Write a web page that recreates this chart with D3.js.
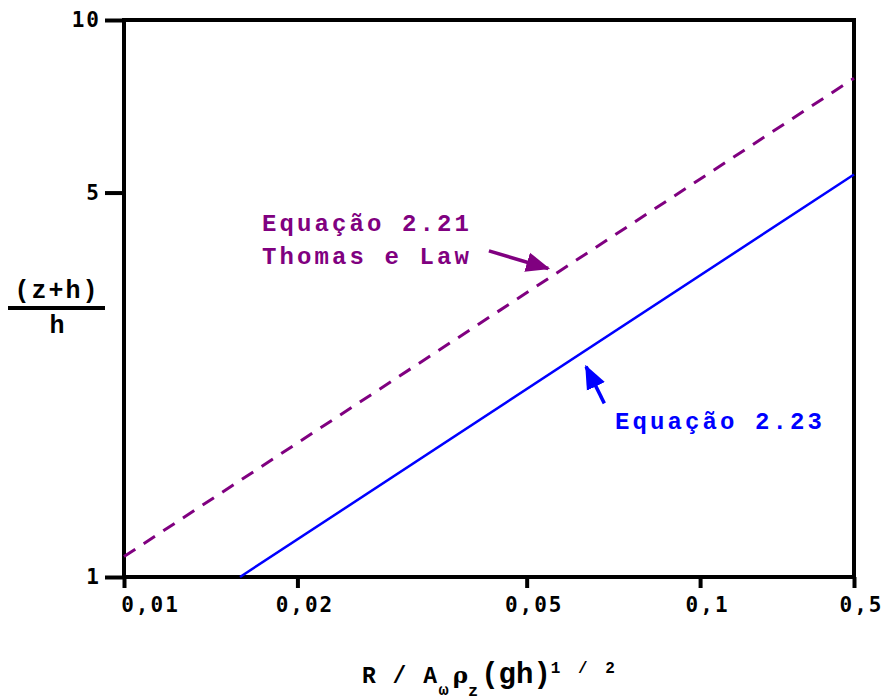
<!DOCTYPE html>
<html>
<head>
<meta charset="utf-8">
<script src="https://cdn.jsdelivr.net/npm/d3@7"></script>
<style>
    body { margin: 0; background: #fff; }
    .tick text { font-family: 'DejaVu Sans Mono', monospace; font-weight: bold; font-size: 21px; fill: #000; }
    .lbl { font-family: 'Liberation Mono', monospace; font-weight: bold; }
</style>
</head>
<body>
<svg id="chart" width="888" height="700"></svg>
<script>
// log-log chart: (z+h)/h against R / A_w rho_z (gh)^1/2
var xTicks = [0.01, 0.02, 0.05, 0.1, 0.185]
var xTickLabels = ["0,01", "0,02", "0,05", "0,1", "0,5"]
var yTicks = [1, 4.9, 10]
var yTickLabels = ["1", "5", "10"]

// Equação 2.21 (Thomas e Law), dashed
var eq221 = [[0.01, 1.088], [0.185, 7.86]]
// Equação 2.23, solid
var eq223 = [[0.0159, 1], [0.185, 5.28]]

// annotation anchors, in data units
var arrow221 = [[0.0430, 3.85], [0.0545, 3.58]]
var arrow223 = [[0.0682, 2.05], [0.0634, 2.386]]
var label221 = [0.01736, 4.18]
var label223 = [0.0712, 1.844]

var purple = "#800080", blue = "#0000ff"

var margin = {top: 20, right: 34, bottom: 123, left: 124},
    width = 888 - margin.left - margin.right,
    height = 700 - margin.top - margin.bottom;

var x = d3.scaleLog().domain([0.01, 0.185]).range([0, width])
var y = d3.scaleLog().domain([1, 10]).range([height, 0])

var svg = d3.select("#chart")
var g = svg.append("g")
    .attr("transform", "translate(" + margin.left + "," + margin.top + ")")

// axes
var xAxis = d3.axisBottom(x)
    .tickValues(xTicks)
    .tickFormat(function(d, i) { return xTickLabels[i] })
    .tickSize(11)
    .tickPadding(9)

var yAxis = d3.axisLeft(y)
    .tickValues(yTicks)
    .tickFormat(function(d, i) { return yTickLabels[i] })
    .tickSize(19)
    .tickPadding(4)

var gx = g.append("g")
    .attr("transform", "translate(0," + height + ")")
    .call(xAxis)
gx.select(".domain").remove()
gx.selectAll(".tick line").attr("stroke", "#000").attr("stroke-width", 4)
gx.selectAll(".tick text")
    .attr("dx", function(d, i) { return i === 0 ? 26 : 7 })
    .style("letter-spacing", "2px")

var gy = g.append("g").call(yAxis)
gy.select(".domain").remove()
gy.selectAll(".tick line").attr("stroke", "#000").attr("stroke-width", 4)
gy.selectAll(".tick text").style("letter-spacing", "2px")

// frame
g.append("rect")
    .attr("x", 0).attr("y", 0)
    .attr("width", width).attr("height", height)
    .attr("fill", "none")
    .attr("stroke", "#000")
    .attr("stroke-width", 4)

// curves
var line = d3.line()
    .x(function(d) { return x(d[0]) })
    .y(function(d) { return y(d[1]) })

g.append("path")
    .datum(eq221)
    .attr("d", line)
    .attr("fill", "none")
    .attr("stroke", purple)
    .attr("stroke-width", 3)
    .attr("stroke-dasharray", "13.5,10")

g.append("path")
    .datum(eq223)
    .attr("d", line)
    .attr("fill", "none")
    .attr("stroke", blue)
    .attr("stroke-width", 2.5)

// arrow heads
var defs = svg.append("defs")
function marker(id, color) {
    defs.append("marker")
        .attr("id", id)
        .attr("markerUnits", "userSpaceOnUse")
        .attr("viewBox", "0 -11 24 22")
        .attr("refX", 22).attr("refY", 0)
        .attr("markerWidth", 24).attr("markerHeight", 22)
        .attr("orient", "auto")
        .append("path")
        .attr("d", "M0,-10L24,0L0,10Z")
        .attr("fill", color)
}
marker("head221", purple)
marker("head223", blue)

g.append("path")
    .datum(arrow221)
    .attr("d", line)
    .attr("stroke", purple)
    .attr("stroke-width", 3.5)
    .attr("marker-end", "url(#head221)")

g.append("path")
    .datum(arrow223)
    .attr("d", line)
    .attr("stroke", blue)
    .attr("stroke-width", 3.5)
    .attr("marker-end", "url(#head223)")

// labels
var t221 = g.append("text")
    .attr("class", "lbl")
    .attr("x", x(label221[0]))
    .attr("y", y(label221[1]))
    .attr("fill", purple)
    .style("font-size", "24px")
    .style("letter-spacing", "3.1px")
t221.append("tspan").text("Equação 2.21")
t221.append("tspan").attr("x", x(label221[0])).attr("dy", 33).text("Thomas e Law")

g.append("text")
    .attr("class", "lbl")
    .attr("x", x(label223[0]))
    .attr("y", y(label223[1]))
    .attr("fill", blue)
    .style("font-size", "24px")
    .style("letter-spacing", "3.1px")
    .text("Equação 2.23")

// y title
svg.append("text")
    .attr("class", "lbl")
    .attr("x", 57).attr("y", 298)
    .attr("text-anchor", "middle")
    .style("font-size", "25px")
    .style("letter-spacing", "2px")
    .text("(z+h)")
svg.append("line")
    .attr("x1", 8).attr("x2", 105)
    .attr("y1", 308).attr("y2", 308)
    .attr("stroke", "#000")
    .attr("stroke-width", 4)
svg.append("text")
    .attr("class", "lbl")
    .attr("x", 57).attr("y", 333)
    .attr("text-anchor", "middle")
    .style("font-size", "25px")
    .text("h")

// x title
var xt = svg.append("text")
    .attr("class", "lbl")
    .attr("x", 362).attr("y", 683)
    .style("font-size", "23px")
xt.append("tspan").style("letter-spacing", "1.5px").text("R / A")
xt.append("tspan").attr("dy", 12).style("font-size", "17px")
    .style("letter-spacing", "4px").text("ω")
xt.append("tspan").attr("dy", -12).style("font-size", "23px")
    .style("font-family", "'DejaVu Serif', serif").text("ρ")
xt.append("tspan").attr("dy", 13).style("font-size", "17px")
    .style("letter-spacing", "3px").text("z")
xt.append("tspan").attr("dy", -13).style("font-size", "29px").text("(gh)")
xt.append("tspan").attr("dy", -10).style("font-size", "16px")
    .style("letter-spacing", "4px").text("1 / 2")
</script>
</body>
</html>
